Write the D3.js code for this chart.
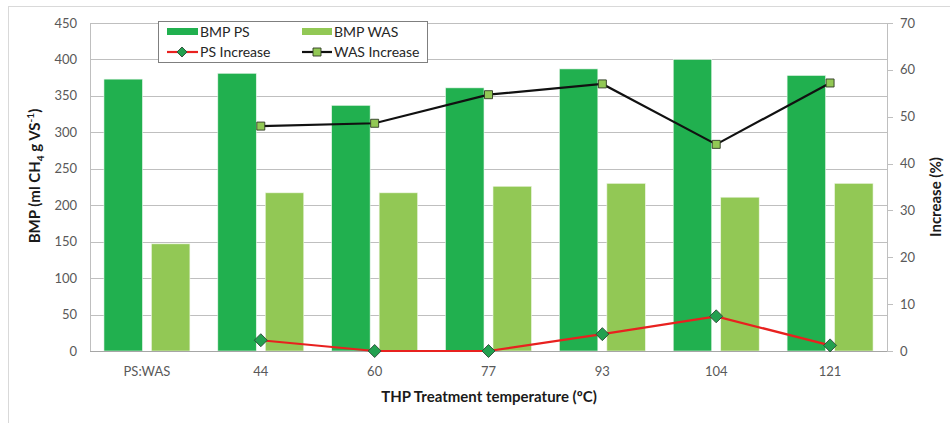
<!DOCTYPE html>
<html>
<head>
<meta charset="utf-8">
<script src="https://cdn.jsdelivr.net/npm/d3@7"></script>
<style>
  body { margin: 0; background: #fff; }
  text { font-family: Lato, "Open Sans", sans-serif; }
</style>
</head>
<body>
<div id="chart"></div>
<script>
var width = 950, height = 423

// data
var categories = ["PS:WAS", "44", "60", "77", "93", "104", "121"]
var bmpPS = [373, 381, 337, 361, 387, 400, 378]
var bmpWAS = [147, 217, 217, 226, 230, 211, 230]
var psIncrease = [null, 2.3, 0, 0, 3.6, 7.4, 1.2]
var wasIncrease = [null, 48.0, 48.6, 54.7, 57.0, 44.1, 57.2]
var leftTicks = [0, 50, 100, 150, 200, 250, 300, 350, 400, 450]
var rightTicks = [0, 10, 20, 30, 40, 50, 60, 70]

var darkGreen = "#21B04F", lightGreen = "#92C855"

var svg = d3.select("#chart").append("svg")
    .attr("width", width)
    .attr("height", height)

// outer chart border
svg.append("rect")
    .attr("x", 8.5).attr("y", 6.5)
    .attr("width", 960).attr("height", 440)
    .attr("fill", "none")
    .attr("stroke", "#d9d9d9")

// plot area
var pLeft = 90, pRight = 887, pTop = 23, pBottom = 351

var x = d3.scaleBand().domain(categories).range([pLeft, pRight])
var xInner = d3.scaleBand().domain(["ps", "was"]).range([0, x.bandwidth()])
    .paddingInner(0.19).paddingOuter(0.294)
var yL = d3.scaleLinear().domain([0, 450]).range([pBottom, pTop])
var yR = d3.scaleLinear().domain([0, 70]).range([pBottom, pTop])

// gridlines
svg.append("g").selectAll("line")
    .data(leftTicks.slice(1))
    .enter().append("line")
    .attr("x1", pLeft).attr("x2", pRight)
    .attr("y1", d => Math.round(yL(d)) + 0.5)
    .attr("y2", d => Math.round(yL(d)) + 0.5)
    .attr("stroke", "#bfbfbf")

// bars
var groups = svg.append("g").selectAll("g")
    .data(categories)
    .enter().append("g")
    .attr("transform", d => "translate(" + x(d) + ",0)")
groups.append("rect")
    .attr("x", xInner("ps"))
    .attr("width", xInner.bandwidth())
    .attr("y", (d, i) => yL(bmpPS[i]))
    .attr("height", (d, i) => pBottom - yL(bmpPS[i]))
    .attr("fill", darkGreen)
    .attr("stroke", "#e8f5ea").attr("stroke-width", 0.6)
groups.append("rect")
    .attr("x", xInner("was"))
    .attr("width", xInner.bandwidth())
    .attr("y", (d, i) => yL(bmpWAS[i]))
    .attr("height", (d, i) => pBottom - yL(bmpWAS[i]))
    .attr("fill", lightGreen)
    .attr("stroke", "#eef6e4").attr("stroke-width", 0.6)

// axis lines
var axisCol = "#bfbfbf"
svg.append("line").attr("x1", pLeft + 0.5).attr("x2", pLeft + 0.5)
    .attr("y1", pTop).attr("y2", pBottom).attr("stroke", axisCol)
svg.append("line").attr("x1", pRight + 0.5).attr("x2", pRight + 0.5)
    .attr("y1", pTop).attr("y2", pBottom).attr("stroke", axisCol)
svg.append("line").attr("x1", pLeft).attr("x2", pRight + 1)
    .attr("y1", pBottom + 0.5).attr("y2", pBottom + 0.5).attr("stroke", "#a6a6a6")

// left tick labels
svg.append("g").selectAll("text")
    .data(leftTicks)
    .enter().append("text")
    .attr("x", 77)
    .attr("y", d => yL(d) + 4.5)
    .attr("text-anchor", "end")
    .attr("font-size", 13)
    .attr("fill", "#595959")
    .text(d => d)

// right axis ticks + labels
svg.append("g").selectAll("line")
    .data(rightTicks)
    .enter().append("line")
    .attr("x1", pRight).attr("x2", pRight + 6)
    .attr("y1", d => Math.round(yR(d)) + 0.5)
    .attr("y2", d => Math.round(yR(d)) + 0.5)
    .attr("stroke", axisCol)
svg.append("g").selectAll("text")
    .data(rightTicks)
    .enter().append("text")
    .attr("x", 900)
    .attr("y", d => yR(d) + 4.5)
    .attr("font-size", 13)
    .attr("fill", "#595959")
    .text(d => d)

// category labels
svg.append("g").selectAll("text")
    .data(categories)
    .enter().append("text")
    .attr("x", d => x(d) + x.bandwidth() / 2)
    .attr("y", 376)
    .attr("text-anchor", "middle")
    .attr("font-size", 13)
    .attr("fill", "#595959")
    .text(d => d)

// axis titles
var yTitle = svg.append("text")
    .attr("transform", "translate(40,176) rotate(-90)")
    .attr("text-anchor", "middle")
    .attr("font-size", 15)
    .attr("font-weight", "bold")
    .attr("fill", "#1a1a1a")
yTitle.append("tspan").text("BMP (ml CH")
yTitle.append("tspan").attr("font-size", 10).attr("dy", 4).text("4")
yTitle.append("tspan").attr("dy", -4).text(" g VS")
yTitle.append("tspan").attr("font-size", 10).attr("dy", -6).text("-1")
yTitle.append("tspan").attr("dy", 6).text(")")

svg.append("text")
    .attr("transform", "translate(941,197) rotate(-90)")
    .attr("text-anchor", "middle")
    .attr("font-size", 15)
    .attr("font-weight", "bold")
    .attr("fill", "#1a1a1a")
    .text("Increase (%)")

svg.append("text")
    .attr("x", 489).attr("y", 402)
    .attr("text-anchor", "middle")
    .attr("font-size", 15)
    .attr("font-weight", "bold")
    .attr("fill", "#1a1a1a")
    .text("THP Treatment temperature (ºC)")

// lines
var cx = d => x(d) + x.bandwidth() / 2
function drawLine(vals, color, marker) {
    var pts = categories.map((c, i) => [cx(c), vals[i]]).filter(p => p[1] != null)
    var line = d3.line().x(p => p[0]).y(p => yR(p[1]))
    svg.append("path")
        .attr("d", line(pts))
        .attr("fill", "none")
        .attr("stroke", color)
        .attr("stroke-width", 2.2)
    svg.append("g").selectAll("path")
        .data(pts)
        .enter().append("path")
        .attr("transform", p => "translate(" + p[0] + "," + yR(p[1]) + ")")
        .attr("d", marker.d)
        .attr("fill", marker.fill)
        .attr("stroke", marker.stroke)
        .attr("stroke-width", 0.9)
}
var diamond = { d: "M0,-6.5L6.5,0L0,6.5L-6.5,0Z", fill: "#22A04F", stroke: "#2d4a35" }
var square = { d: "M-4,-4H4V4H-4Z", fill: lightGreen, stroke: "#2f3a25" }
drawLine(psIncrease, "#E8211F", diamond)
drawLine(wasIncrease, "#111", square)

// legend
var lg = svg.append("g")
lg.append("rect")
    .attr("x", 158.5).attr("y", 21.5)
    .attr("width", 269).attr("height", 41)
    .attr("fill", "#fff")
    .attr("stroke", "#7f7f7f")
lg.append("rect").attr("x", 167).attr("y", 28).attr("width", 31).attr("height", 7).attr("fill", darkGreen)
lg.append("rect").attr("x", 302).attr("y", 28).attr("width", 30).attr("height", 7).attr("fill", lightGreen)
lg.append("line").attr("x1", 167).attr("x2", 198).attr("y1", 52).attr("y2", 52)
    .attr("stroke", "#E8211F").attr("stroke-width", 2.2)
lg.append("path").attr("transform", "translate(182,52)").attr("d", "M0,-5L5,0L0,5L-5,0Z")
    .attr("fill", diamond.fill).attr("stroke", diamond.stroke).attr("stroke-width", 0.9)
lg.append("line").attr("x1", 302).attr("x2", 332).attr("y1", 52).attr("y2", 52)
    .attr("stroke", "#111").attr("stroke-width", 2.2)
lg.append("path").attr("transform", "translate(317,52)").attr("d", "M-4,-4H4V4H-4Z")
    .attr("fill", square.fill).attr("stroke", square.stroke).attr("stroke-width", 0.9)
var legendText = [["BMP PS", 200, 37], ["BMP WAS", 334, 37], ["PS Increase", 200, 57], ["WAS Increase", 334, 57]]
lg.selectAll("text.lt")
    .data(legendText)
    .enter().append("text")
    .attr("class", "lt")
    .attr("x", d => d[1]).attr("y", d => d[2])
    .attr("font-size", 14)
    .attr("fill", "#262626")
    .text(d => d[0])
</script>
</body>
</html>
